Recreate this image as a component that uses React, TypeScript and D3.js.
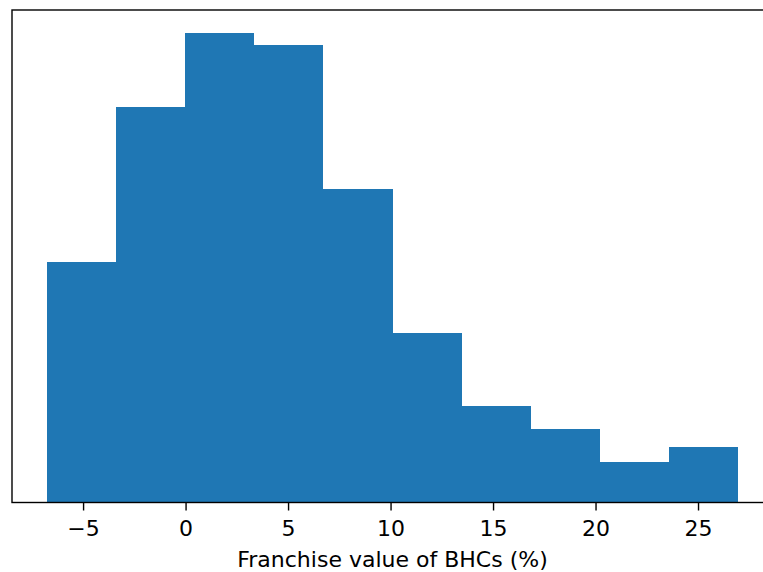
import React, {useEffect, useRef} from 'react';
import {scaleLinear, axisBottom, select} from 'd3';

// histogram bin edges and counts
const binEdges = [-6.78, -3.40, -0.03, 3.35, 6.72, 10.10, 13.47, 16.85, 20.22, 23.60, 26.97];
const binCounts = [65, 107, 127, 124, 85, 46, 26, 20, 11, 15];
const xTicks = [-5, 0, 5, 10, 15, 20, 25];
const xLabel = 'Franchise value of BHCs (%)';

const W = 763;
const H = 572;
const margin = {t: 10, l: 12, r: 773, b: 502.5};

const fontFamily = 'DejaVu Sans, sans-serif';
const fontSize = '22px';

export default function App() {
	const axisRef = useRef<SVGGElement>(null);

	const pad = (binEdges[binEdges.length - 1] - binEdges[0]) * 0.05;
	const scaleX = scaleLinear()
		.domain([binEdges[0] - pad, binEdges[binEdges.length - 1] + pad])
		.range([margin.l, margin.r]);
	const maxCount = Math.max(...binCounts);
	const scaleY = scaleLinear()
		.domain([0, maxCount * 1.05])
		.range([margin.b, margin.t]);

	useEffect(() => {
		const axis = axisBottom(scaleX)
			.tickValues(xTicks)
			.tickSize(8)
			.tickPadding(9.5)
			.tickFormat(d => {
				const v = +d;
				return v < 0 ? '\u2212' + Math.abs(v) : String(v);
			});
		const g = select(axisRef.current);
		g.call(axis);
		g.select('.domain').remove();
		g.selectAll('line').attr('stroke', '#000').attr('stroke-width', 1.4);
		g.selectAll('text')
			.attr('fill', '#000')
			.style('font-size', fontSize)
			.style('font-family', fontFamily);
	}, []);

	return (
		<svg width={W} height={H} style={{position: 'absolute', left: 0, top: 0, background: '#fff'}}>
			<g className='bars'>
				{binCounts.map((c, i) => (
					<rect
						key={i}
						x={scaleX(binEdges[i])}
						width={scaleX(binEdges[i + 1]) - scaleX(binEdges[i])}
						y={scaleY(c)}
						height={scaleY(0) - scaleY(c)}
						fill='#1f77b4'
						shapeRendering='crispEdges'
					/>
				))}
			</g>
			<rect
				x={margin.l}
				y={margin.t}
				width={margin.r - margin.l}
				height={margin.b - margin.t}
				fill='none'
				stroke='#000'
				strokeWidth={1.4}
			/>
			<g ref={axisRef} transform={`translate(0,${margin.b})`} />
			<text
				x={(margin.l + margin.r) / 2}
				y={567}
				textAnchor='middle'
				fill='#000'
				style={{fontFamily, fontSize}}
			>
				{xLabel}
			</text>
		</svg>
	);
}
